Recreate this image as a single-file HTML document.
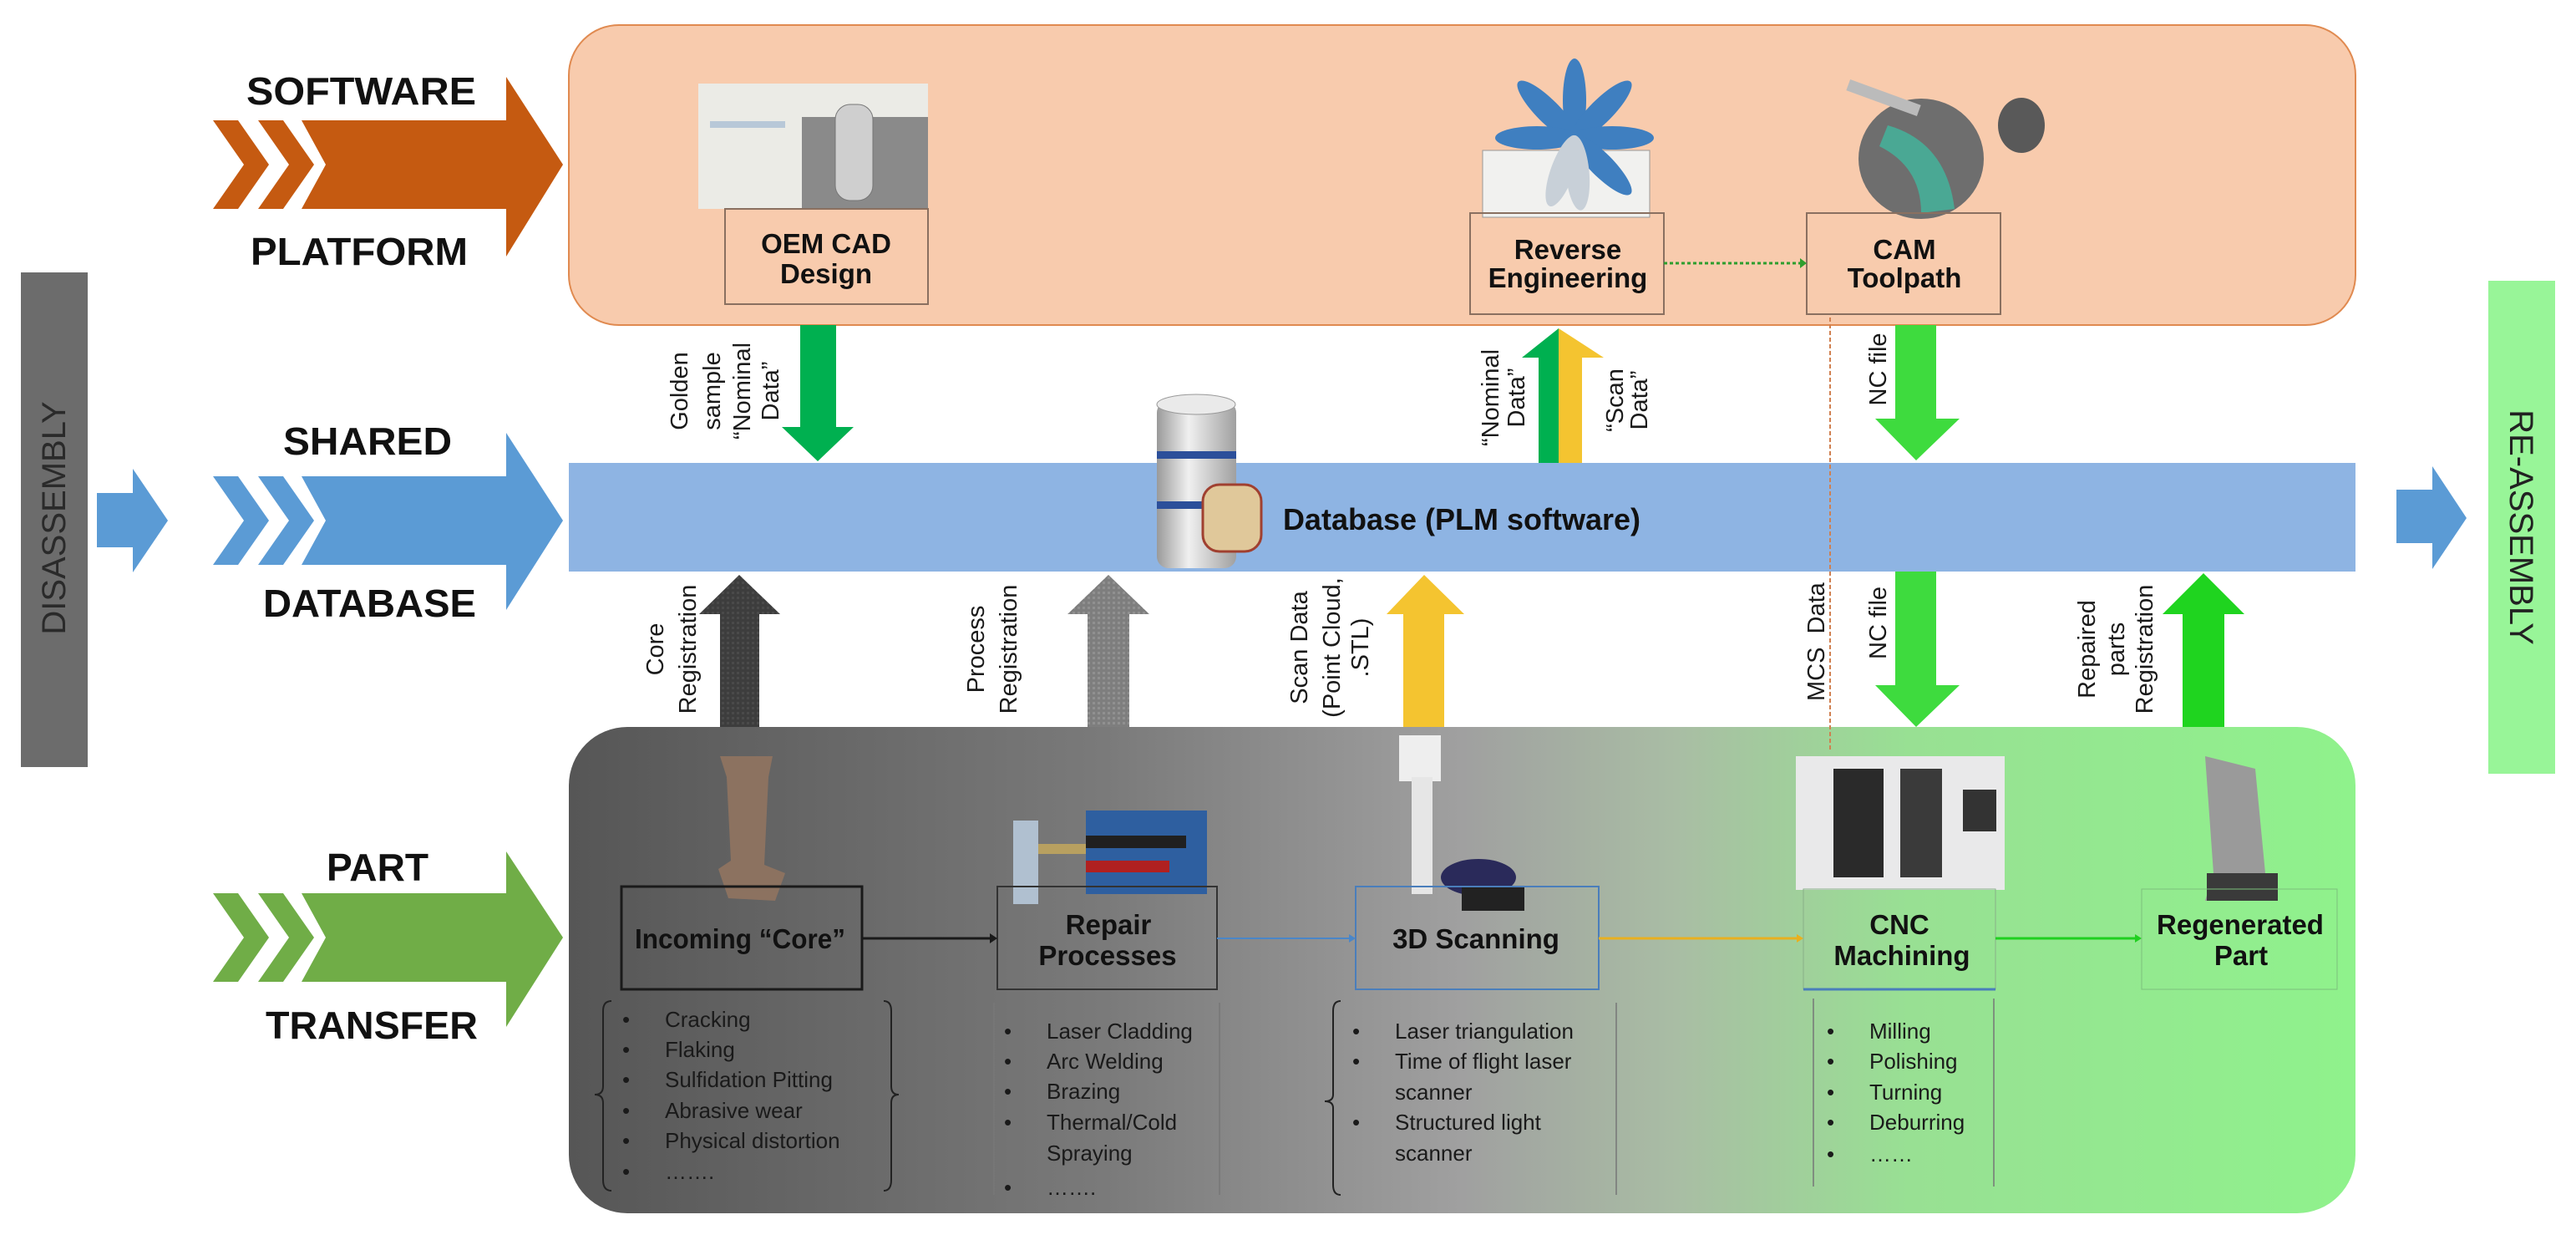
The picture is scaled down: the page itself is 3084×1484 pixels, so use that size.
<!DOCTYPE html>
<html><head><meta charset="utf-8"><style>html,body{margin:0;padding:0;background:#fff;}svg{display:block}</style></head>
<body>
<svg width="3084" height="1484" viewBox="0 0 3084 1484" xmlns="http://www.w3.org/2000/svg" font-family="Liberation Sans, Arial, sans-serif">
<defs>
<linearGradient id="bot" x1="0" x2="1" y1="0" y2="0">
<stop offset="0" stop-color="#565656"/><stop offset="0.3" stop-color="#7a7a7a"/><stop offset="0.5" stop-color="#a0a0a0"/><stop offset="0.62" stop-color="#a9bda4"/><stop offset="0.75" stop-color="#98e093"/><stop offset="1" stop-color="#8ff28c"/>
</linearGradient>
<linearGradient id="cyl" x1="0" x2="1" y1="0" y2="0">
<stop offset="0" stop-color="#9a9a9a"/><stop offset="0.4" stop-color="#f0f0f0"/><stop offset="1" stop-color="#a0a0a0"/>
</linearGradient>
<pattern id="hatch" width="6" height="6" patternUnits="userSpaceOnUse"><rect width="6" height="6" fill="#3d3d3d"/><rect width="3" height="3" fill="#4a4a4a"/></pattern>
<pattern id="hatch2" width="6" height="6" patternUnits="userSpaceOnUse"><rect width="6" height="6" fill="#7e7e7e"/><rect width="3" height="3" fill="#909090"/></pattern>
</defs>

<!-- Side bars -->
<rect x="25" y="326" width="80" height="592" fill="#6c6c6c"/>
<text transform="translate(78,620) rotate(-90)" text-anchor="middle" font-size="40" fill="#2a2a2a">DISASSEMBLY</text>
<rect x="2979" y="336" width="80" height="590" fill="#98f598"/>
<text transform="translate(3005,631) rotate(90)" text-anchor="middle" font-size="40" fill="#222">RE-ASSEMBLY</text>
<polygon points="116,590 159,590 159,561 201,623 159,685 159,655 116,655" fill="#5b9bd5"/>
<polygon points="2869,586 2912,586 2912,558 2953,620 2912,681 2912,650 2869,650" fill="#5b9bd5"/>

<!-- Main boxes -->
<rect x="681" y="30" width="2139" height="359" rx="60" fill="#f8cbad" stroke="#e08a50" stroke-width="2"/>
<rect x="681" y="554" width="2139" height="130" fill="#8eb4e3"/>
<rect x="681" y="870" width="2139" height="582" rx="70" fill="url(#bot)"/>

<!-- Left chevron arrows -->
<g fill="#c55a11" transform="translate(0,197)">
<polygon points="255,-53 285,-53 322,0 285,53 255,53 292,0"/>
<polygon points="309,-53 339,-53 376,0 339,53 309,53 346,0"/>
<polygon points="361,-53 606,-53 606,-105 674,0 606,110 606,53 361,53 390,0"/>
</g>
<g fill="#5b9bd5" transform="translate(0,623)">
<polygon points="255,-53 285,-53 322,0 285,53 255,53 292,0"/>
<polygon points="309,-53 339,-53 376,0 339,53 309,53 346,0"/>
<polygon points="361,-53 606,-53 606,-105 674,0 606,107 606,53 361,53 390,0"/>
</g>
<g fill="#70ad47" transform="translate(0,1122)">
<polygon points="255,-53 285,-53 322,0 285,53 255,53 292,0"/>
<polygon points="309,-53 339,-53 376,0 339,53 309,53 346,0"/>
<polygon points="361,-53 606,-53 606,-103 674,0 606,107 606,53 361,53 390,0"/>
</g>
<g font-weight="bold" font-size="46" fill="#111">
<text x="295" y="125" textLength="275" lengthAdjust="spacingAndGlyphs">SOFTWARE</text>
<text x="300" y="317" textLength="260" lengthAdjust="spacingAndGlyphs">PLATFORM</text>
<text x="339" y="544" textLength="202" lengthAdjust="spacingAndGlyphs">SHARED</text>
<text x="315" y="738" textLength="255" lengthAdjust="spacingAndGlyphs">DATABASE</text>
<text x="391" y="1054" textLength="122" lengthAdjust="spacingAndGlyphs">PART</text>
<text x="318" y="1243" textLength="254" lengthAdjust="spacingAndGlyphs">TRANSFER</text>
</g>

<!-- Top images -->
<rect x="836" y="100" width="275" height="150" fill="#ebebe6"/>
<rect x="960" y="140" width="151" height="110" fill="#8a8a8a"/>
<rect x="1000" y="125" width="45" height="115" rx="18" fill="#cfcfcf" stroke="#777"/>
<rect x="850" y="145" width="90" height="8" fill="#b8c8d8"/>
<!-- reverse engineering -->
<rect x="1775" y="180" width="200" height="80" fill="#f1f1ef" stroke="#999"/>
<g fill="#3f7fc0" transform="translate(1885,165)">
<ellipse rx="14" ry="50" transform="rotate(0) translate(0,-45)"/>
<ellipse rx="14" ry="50" transform="rotate(45) translate(0,-45)"/>
<ellipse rx="14" ry="50" transform="rotate(90) translate(0,-45)"/>
<ellipse rx="14" ry="50" transform="rotate(135) translate(0,-45)"/>
<ellipse rx="14" ry="50" transform="rotate(-45) translate(0,-45)"/>
<ellipse rx="14" ry="50" transform="rotate(-90) translate(0,-45)"/>
<ellipse rx="14" ry="45" fill="#c8d0d8" transform="rotate(-160) translate(0,-42)"/>
<ellipse rx="14" ry="45" fill="#c8d0d8" transform="rotate(175) translate(0,-42)"/>
</g>
<!-- CAM -->
<ellipse cx="2300" cy="190" rx="75" ry="72" fill="#6e6e6e"/>
<path d="M2260 150 Q2330 170 2340 250 L2300 255 Q2300 200 2250 175Z" fill="#4aa894"/>
<ellipse cx="2420" cy="150" rx="28" ry="33" fill="#595959"/>
<rect x="2210" y="110" width="90" height="14" fill="#bbb" transform="rotate(20 2255 117)"/>
<!-- database cylinder -->
<rect x="1385" y="480" width="95" height="200" rx="14" fill="url(#cyl)"/>
<ellipse cx="1432" cy="484" rx="47" ry="12" fill="#eaeaea" stroke="#999"/>
<rect x="1385" y="540" width="95" height="9" fill="#2c4f9a"/>
<rect x="1385" y="600" width="95" height="9" fill="#2c4f9a"/>
<rect x="1440" y="580" width="70" height="80" rx="20" fill="#e0c89a" stroke="#a04030" stroke-width="3"/>

<!-- Top boxes -->
<g fill="none" stroke="#8a7060" stroke-width="2">
<rect x="868" y="250" width="243" height="114"/>
<rect x="1760" y="255" width="232" height="121"/>
<rect x="2163" y="255" width="232" height="121"/>
</g>
<g font-weight="bold" font-size="33" fill="#111" text-anchor="middle">
<text x="989" y="303">OEM CAD</text>
<text x="989" y="339">Design</text>
<text x="1877" y="310">Reverse</text>
<text x="1877" y="344">Engineering</text>
<text x="2280" y="310">CAM</text>
<text x="2280" y="344">Toolpath</text>
<text x="1750" y="634" font-size="36">Database (PLM software)</text>
</g>
<line x1="1992" y1="315" x2="2155" y2="315" stroke="#2e9e2e" stroke-width="3" stroke-dasharray="4 3"/>
<polygon points="2155,309 2163,315 2155,321" fill="#2e9e2e"/>
<line x1="2191" y1="380" x2="2191" y2="900" stroke="#d08050" stroke-width="2" stroke-dasharray="5 3"/>

<!-- Vertical arrows -->
<polygon points="958,389 1001,389 1001,511 1022,511 979,552 936,511 958,511" fill="#00b050"/>
<polygon points="2269,389 2318,389 2318,501 2346,501 2294,551 2245,501 2269,501" fill="#3edb3e"/>
<polygon points="2269,684 2318,684 2318,820 2346,820 2294,870 2245,820 2269,820" fill="#3edb3e"/>
<polygon points="1842,554 1866,554 1866,393 1822,428 1842,428" fill="#00b050"/>
<polygon points="1866,554 1894,554 1894,428 1920,428 1866,393" fill="#f4c430"/>
<polygon points="862,870 909,870 909,735 934,735 885,688 837,735 862,735" fill="url(#hatch)"/>
<polygon points="1302,870 1352,870 1352,735 1376,735 1327,688 1278,735 1302,735" fill="url(#hatch2)"/>
<polygon points="1680,870 1729,870 1729,735 1753,735 1705,688 1660,735 1680,735" fill="#f4c430"/>
<polygon points="2613,870 2663,870 2663,735 2687,735 2638,686 2589,735 2613,735" fill="#1fd41f"/>

<!-- Rotated labels -->
<g font-size="29" fill="#1a1a1a" text-anchor="middle">
<text transform="translate(823,468) rotate(-90)">Golden</text>
<text transform="translate(862,468) rotate(-90)">sample</text>
<text transform="translate(898,468) rotate(-90)">“Nominal</text>
<text transform="translate(932,468) rotate(-90)">Data”</text>
<text transform="translate(1794,476) rotate(-90)">“Nominal</text>
<text transform="translate(1825,476) rotate(-90)">Data”</text>
<text transform="translate(1943,479) rotate(-90)">“Scan</text>
<text transform="translate(1972,479) rotate(-90)">Data”</text>
<text transform="translate(2258,442) rotate(-90)">NC file</text>
<text transform="translate(794,777) rotate(-90)">Core</text>
<text transform="translate(833,777) rotate(-90)">Registration</text>
<text transform="translate(1178,777) rotate(-90)">Process</text>
<text transform="translate(1217,777) rotate(-90)">Registration</text>
<text transform="translate(1565,775) rotate(-90)">Scan Data</text>
<text transform="translate(1604,775) rotate(-90)">(Point Cloud,</text>
<text transform="translate(1638,775) rotate(-90)">.STL)</text>
<text transform="translate(2508,777) rotate(-90)">Repaired</text>
<text transform="translate(2543,777) rotate(-90)">parts</text>
<text transform="translate(2577,777) rotate(-90)">Registration</text>
<text transform="translate(2184,839) rotate(-90)" text-anchor="start" xml:space="preserve">MCS  Data</text>
<text transform="translate(2258,789) rotate(-90)" text-anchor="start">NC file</text>
</g>

<!-- Bottom images -->
<path d="M862 905 L925 905 L920 930 L915 1035 L940 1045 L928 1078 L872 1075 L860 1040 L875 1030 L870 930Z" fill="#8c7260"/>
<rect x="1213" y="982" width="30" height="100" fill="#b0c0d0"/>
<rect x="1243" y="1010" width="60" height="12" fill="#b8a060"/>
<rect x="1300" y="970" width="145" height="100" fill="#2e5fa0"/>
<rect x="1300" y="1000" width="120" height="15" fill="#202020"/>
<rect x="1300" y="1030" width="100" height="14" fill="#b02020"/>
<rect x="1675" y="880" width="50" height="55" fill="#eee"/>
<rect x="1690" y="930" width="25" height="140" fill="#e6e6e6"/>
<ellipse cx="1770" cy="1050" rx="45" ry="22" fill="#2a2a5a"/>
<rect x="1750" y="1060" width="75" height="30" fill="#222"/>
<rect x="2150" y="905" width="250" height="160" fill="#e9e9ea"/>
<rect x="2195" y="920" width="60" height="130" fill="#2a2a2a"/>
<rect x="2275" y="920" width="50" height="130" fill="#3a3a3a"/>
<rect x="2350" y="945" width="40" height="50" fill="#333"/>
<path d="M2640 905 L2700 920 L2712 1045 L2725 1078 L2640 1078 L2650 1045Z" fill="#9a9a9a"/>
<rect x="2642" y="1045" width="85" height="33" fill="#3a3a3a"/>

<!-- Bottom boxes -->
<rect x="744" y="1061" width="288" height="123" fill="none" stroke="#1a1a1a" stroke-width="3"/>
<rect x="1194" y="1061" width="263" height="123" fill="none" stroke="#333" stroke-width="2"/>
<rect x="1623" y="1061" width="291" height="123" fill="none" stroke="#4a7ebb" stroke-width="2"/>
<rect x="2159" y="1064" width="230" height="120" fill="none" stroke="#88b088" stroke-width="1"/>
<line x1="2159" y1="1184" x2="2389" y2="1184" stroke="#4a7ebb" stroke-width="3"/>
<rect x="2564" y="1064" width="234" height="120" fill="none" stroke="#7cc07c" stroke-width="1"/>
<line x1="1032" y1="1123" x2="1185" y2="1123" stroke="#1a1a1a" stroke-width="3"/><polygon points="1185,1117 1194,1123 1185,1129" fill="#1a1a1a"/>
<line x1="1457" y1="1123" x2="1615" y2="1123" stroke="#4a86c8" stroke-width="2"/><polygon points="1615,1118 1623,1123 1615,1128" fill="#4a86c8"/>
<line x1="1914" y1="1123" x2="2151" y2="1123" stroke="#e8b020" stroke-width="3"/><polygon points="2151,1118 2159,1123 2151,1128" fill="#e8b020"/>
<line x1="2389" y1="1123" x2="2556" y2="1123" stroke="#20d020" stroke-width="3"/><polygon points="2556,1118 2564,1123 2556,1128" fill="#20d020"/>
<g font-weight="bold" font-size="33" fill="#111" text-anchor="middle">
<text x="886" y="1135" textLength="252" lengthAdjust="spacingAndGlyphs">Incoming “Core”</text>
<text x="1327" y="1118">Repair</text>
<text x="1326" y="1155">Processes</text>
<text x="1767" y="1135">3D Scanning</text>
<text x="2274" y="1118">CNC</text>
<text x="2277" y="1155">Machining</text>
<text x="2682" y="1118">Regenerated</text>
<text x="2683" y="1155">Part</text>
</g>

<!-- Lists -->
<g fill="none" stroke="#222" stroke-width="2">
<path d="M732 1198 Q722 1198 722 1210 L722 1300 Q722 1310 712 1310 Q722 1310 722 1320 L722 1412 Q722 1425 732 1425"/>
<path d="M1058 1198 Q1067 1198 1067 1210 L1067 1300 Q1067 1310 1076 1310 Q1067 1310 1067 1320 L1067 1412 Q1067 1425 1058 1425"/>
<path d="M1605 1198 Q1596 1198 1596 1210 L1596 1310 Q1596 1318 1586 1318 Q1596 1318 1596 1326 L1596 1418 Q1596 1430 1605 1430"/>
</g>
<g stroke="#777" stroke-width="1.5">
<line x1="1190" y1="1200" x2="1190" y2="1430"/><line x1="1460" y1="1200" x2="1460" y2="1430"/>
<line x1="1935" y1="1200" x2="1935" y2="1430"/>
<line x1="2171" y1="1195" x2="2171" y2="1420"/><line x1="2387" y1="1195" x2="2387" y2="1420"/>
</g>
<g font-size="26" fill="#1a1a1a">
<g><text x="745" y="1229">•</text><text x="796" y="1229">Cracking</text>
<text x="745" y="1265">•</text><text x="796" y="1265">Flaking</text>
<text x="745" y="1301">•</text><text x="796" y="1301">Sulfidation Pitting</text>
<text x="745" y="1338">•</text><text x="796" y="1338">Abrasive wear</text>
<text x="745" y="1374">•</text><text x="796" y="1374">Physical distortion</text>
<text x="745" y="1411">•</text><text x="796" y="1411">…….</text></g>
<g><text x="1202" y="1243">•</text><text x="1253" y="1243">Laser Cladding</text>
<text x="1202" y="1279">•</text><text x="1253" y="1279">Arc Welding</text>
<text x="1202" y="1315">•</text><text x="1253" y="1315">Brazing</text>
<text x="1202" y="1352">•</text><text x="1253" y="1352">Thermal/Cold</text>
<text x="1253" y="1389">Spraying</text>
<text x="1202" y="1430">•</text><text x="1253" y="1430">…….</text></g>
<g><text x="1619" y="1243">•</text><text x="1670" y="1243">Laser triangulation</text>
<text x="1619" y="1279">•</text><text x="1670" y="1279">Time of flight laser</text>
<text x="1670" y="1316">scanner</text>
<text x="1619" y="1352">•</text><text x="1670" y="1352">Structured light</text>
<text x="1670" y="1389">scanner</text></g>
<g><text x="2187" y="1243">•</text><text x="2238" y="1243">Milling</text>
<text x="2187" y="1279">•</text><text x="2238" y="1279">Polishing</text>
<text x="2187" y="1316">•</text><text x="2238" y="1316">Turning</text>
<text x="2187" y="1352">•</text><text x="2238" y="1352">Deburring</text>
<text x="2187" y="1390">•</text><text x="2238" y="1390">……</text></g>
</g>
</svg>
</body></html>
